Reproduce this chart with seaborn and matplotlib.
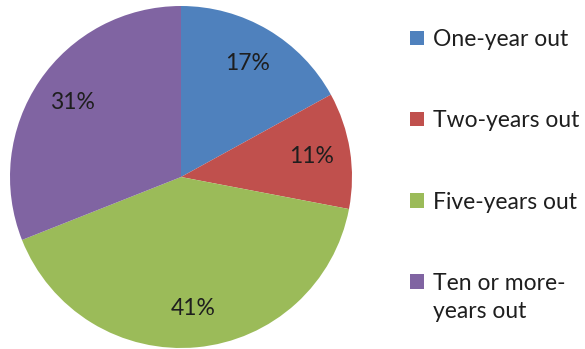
import matplotlib
matplotlib.use("Agg")
import matplotlib.pyplot as plt
import seaborn as sns

# Share of responses by time horizon
categories = ["One-year out", "Two-years out", "Five-years out", "Ten or more-\nyears out"]
shares = [17, 11, 41, 31]
colors = ["#4F81BD", "#C0504D", "#9BBB59", "#8064A2"]

sns.set_theme(style="white")
plt.rcParams["font.family"] = ["Lato", "DejaVu Sans"]

W, H = 585, 349
fig = plt.figure(figsize=(W / 100, H / 100), dpi=100)
fig.patch.set_facecolor("white")

# pie centre (181, 177) px from top-left, radius 171 px
cx, cy, r = 181, 177, 171
ax = fig.add_axes([(cx - r) / W, (H - cy - r) / H, 2 * r / W, 2 * r / H])

palette = sns.color_palette(colors)
wedges, _, autotexts = ax.pie(
    shares,
    colors=palette,
    startangle=90,
    counterclock=False,
    autopct="%d%%",
    pctdistance=0.77,
    wedgeprops=dict(linewidth=0),
    textprops=dict(fontsize=16.5, color="#1e1e1e"),
    radius=1.0,
)
ax.set_xlim(-1, 1)
ax.set_ylim(-1, 1)
ax.set_aspect("equal")
ax.axis("off")

# legend with first-line labels; the wrapped part of the last label sits below it
legend_labels = [c.split("\n")[0] for c in categories]
leg = fig.legend(
    wedges,
    legend_labels,
    loc="upper left",
    bbox_to_anchor=(410 / W, 1 - 29 / H),
    frameon=False,
    fontsize=16.5,
    handlelength=0.6,
    handleheight=0.6,
    handletextpad=0.4,
    labelspacing=2.63,
    borderpad=0,
    borderaxespad=0,
)
for t in leg.get_texts():
    t.set_color("#1e1e1e")

last = leg.get_texts()[-1]
fig.canvas.draw()
ax.annotate(
    categories[-1].split("\n")[1],
    xy=(0, 0),
    xycoords=last,
    xytext=(0, -5),
    textcoords="offset points",
    ha="left",
    va="top",
    fontsize=16.5,
    color="#1e1e1e",
    annotation_clip=False,
)

fig.savefig("out.png", dpi=100, facecolor="white")
